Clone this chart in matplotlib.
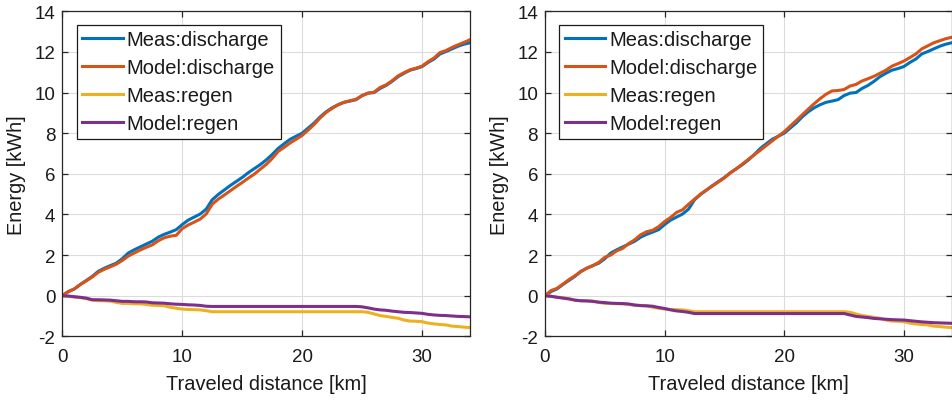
import numpy as np
import matplotlib
matplotlib.use("Agg")
import matplotlib.pyplot as plt

plt.rcParams['font.family'] = ['Liberation Sans', 'DejaVu Sans']
plt.rcParams['axes.unicode_minus'] = False

# distance grid [km]
distance = np.arange(0, 34.01, 0.5)

meas_discharge = [0, 0.2, 0.33, 0.55, 0.75, 0.95, 1.2, 1.35, 1.48, 1.6,
                  1.82, 2.1, 2.26, 2.4, 2.54, 2.68, 2.88, 3.02, 3.13, 3.25,
                  3.5, 3.72, 3.87, 4.02, 4.26, 4.72, 4.98, 5.2, 5.42, 5.62,
                  5.82, 6.05, 6.25, 6.45, 6.68, 6.95, 7.25, 7.48, 7.7, 7.85,
                  8.0, 8.25, 8.5, 8.8, 9.05, 9.25, 9.4, 9.52, 9.58, 9.65,
                  9.85, 9.97, 10.0, 10.2, 10.35, 10.55, 10.78, 10.95, 11.1, 11.18,
                  11.28, 11.48, 11.65, 11.9, 12.02, 12.15, 12.28, 12.38, 12.45]

meas_regen = [0, -0.03, -0.07, -0.1, -0.15, -0.22, -0.25, -0.25, -0.27, -0.33,
              -0.38, -0.38, -0.4, -0.4, -0.43, -0.47, -0.48, -0.5, -0.57, -0.62,
              -0.66, -0.68, -0.69, -0.7, -0.74, -0.79, -0.79, -0.79, -0.79, -0.79,
              -0.79, -0.79, -0.79, -0.79, -0.79, -0.79, -0.79, -0.79, -0.79, -0.79,
              -0.79, -0.79, -0.79, -0.79, -0.79, -0.79, -0.79, -0.79, -0.79, -0.79,
              -0.79, -0.82, -0.9, -0.98, -1.02, -1.07, -1.11, -1.2, -1.25, -1.26,
              -1.28, -1.35, -1.39, -1.42, -1.44, -1.5, -1.52, -1.55, -1.57]

model1_discharge = [0, 0.2, 0.33, 0.55, 0.73, 0.92, 1.15, 1.3, 1.42, 1.55,
                    1.73, 1.95, 2.1, 2.25, 2.38, 2.5, 2.7, 2.85, 2.93, 2.97,
                    3.3, 3.48, 3.62, 3.77, 4.02, 4.5, 4.75, 4.95, 5.16, 5.37,
                    5.57, 5.78, 5.98, 6.22, 6.46, 6.75, 7.1, 7.3, 7.52, 7.7,
                    7.89, 8.15, 8.43, 8.75, 9.02, 9.22, 9.4, 9.52, 9.6, 9.67,
                    9.85, 9.97, 10.02, 10.25, 10.38, 10.58, 10.82, 10.98, 11.12, 11.2,
                    11.3, 11.52, 11.7, 11.97, 12.07, 12.22, 12.35, 12.47, 12.6]

model1_regen = [0, -0.02, -0.05, -0.08, -0.12, -0.2, -0.2, -0.21, -0.22, -0.25,
                -0.28, -0.28, -0.3, -0.3, -0.31, -0.35, -0.36, -0.37, -0.4, -0.42,
                -0.43, -0.45, -0.46, -0.48, -0.52, -0.53, -0.53, -0.53, -0.53, -0.53,
                -0.53, -0.53, -0.53, -0.53, -0.53, -0.53, -0.53, -0.53, -0.53, -0.53,
                -0.53, -0.53, -0.53, -0.53, -0.53, -0.53, -0.53, -0.53, -0.53, -0.53,
                -0.55, -0.6, -0.66, -0.7, -0.72, -0.76, -0.79, -0.82, -0.83, -0.85,
                -0.87, -0.92, -0.95, -0.97, -0.98, -1.0, -1.02, -1.03, -1.04]

model2_discharge = [0, 0.25, 0.36, 0.57, 0.79, 0.98, 1.18, 1.36, 1.48, 1.64,
                    1.89, 2.0, 2.21, 2.33, 2.57, 2.75, 3.0, 3.15, 3.22, 3.4,
                    3.65, 3.85, 4.1, 4.23, 4.5, 4.75, 5.0, 5.2, 5.4, 5.6,
                    5.8, 6.05, 6.25, 6.48, 6.71, 6.94, 7.16, 7.39, 7.62, 7.85,
                    8.07, 8.35, 8.62, 8.9, 9.18, 9.45, 9.7, 9.92, 10.08, 10.1,
                    10.15, 10.32, 10.4, 10.57, 10.68, 10.8, 10.95, 11.1, 11.3, 11.42,
                    11.55, 11.72, 11.9, 12.15, 12.3, 12.45, 12.55, 12.65, 12.72]

model2_regen = [0, -0.03, -0.08, -0.12, -0.16, -0.22, -0.25, -0.26, -0.28, -0.32,
                -0.34, -0.37, -0.38, -0.39, -0.41, -0.46, -0.49, -0.5, -0.52, -0.58,
                -0.63, -0.7, -0.75, -0.78, -0.82, -0.88, -0.88, -0.88, -0.88, -0.88,
                -0.88, -0.88, -0.88, -0.88, -0.88, -0.88, -0.88, -0.88, -0.88, -0.88,
                -0.88, -0.88, -0.88, -0.88, -0.88, -0.88, -0.88, -0.88, -0.88, -0.88,
                -0.88, -0.95, -1.02, -1.05, -1.08, -1.12, -1.14, -1.16, -1.18, -1.19,
                -1.2, -1.23, -1.26, -1.29, -1.31, -1.33, -1.34, -1.35, -1.36]

legend_labels = ["Meas:discharge", "Model:discharge", "Meas:regen", "Model:regen"]
colors = ["#0072BD", "#D95319", "#EDB120", "#7E2F8E"]
xticks = [0, 10, 20, 30]
yticks = [-2, 0, 2, 4, 6, 8, 10, 12, 14]

fig = plt.figure(figsize=(9.53, 4.02), dpi=100)
positions = [[62.3 / 953, 1 - 337.3 / 402, 407.7 / 953, 325 / 402],
             [545.0 / 953, 1 - 337.3 / 402, 406.7 / 953, 325 / 402]]
panels = [(model1_discharge, model1_regen), (model2_discharge, model2_regen)]

txt = '#1a1a1a'
for pos, (md, mr) in zip(positions, panels):
    ax = fig.add_axes(pos)
    series = [meas_discharge, md, meas_regen, mr]
    for s, c, lab in zip(series, colors, legend_labels):
        ax.plot(distance, s, color=c, lw=2.2, label=lab)
    ax.set_xlim(0, 34)
    ax.set_ylim(-2, 14)
    ax.set_xticks(xticks)
    ax.set_yticks(yticks)
    ax.grid(True, color='#dcdcdc', lw=0.8)
    ax.set_axisbelow(True)
    for sp in ax.spines.values():
        sp.set_color('#262626')
        sp.set_linewidth(0.9)
    ax.tick_params(direction='in', length=4, width=0.9, top=True, right=True,
                   labelsize=13.5, colors='#262626', labelcolor=txt)
    ax.tick_params(axis='x', pad=8.5)
    ax.tick_params(axis='y', pad=5)
    ax.set_xlabel("Traveled distance [km]", fontsize=14.4, color=txt, labelpad=6.5)
    ax.set_ylabel("Energy [kWh]", fontsize=14.4, color=txt, labelpad=6)
    leg = ax.legend(loc='upper left', bbox_to_anchor=(0.0353, 0.959), fontsize=14.5,
                    frameon=True, fancybox=False, edgecolor='#1a1a1a',
                    framealpha=1, handlelength=2.0, handletextpad=0.2,
                    labelspacing=0.45, borderpad=0.28, borderaxespad=0)
    leg.get_frame().set_linewidth(0.9)
    for t in leg.get_texts():
        t.set_color(txt)

fig.savefig("out.png", dpi=100)
